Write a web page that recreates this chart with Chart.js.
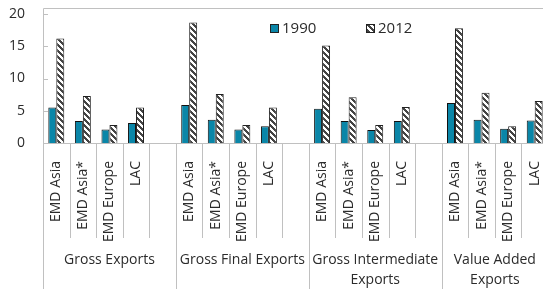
<!DOCTYPE html>
<html lang="en">
<head>
  <meta charset="UTF-8">
  <title>Exports 1990 vs 2012</title>
  <script src="https://cdn.jsdelivr.net/npm/chart.js"></script>
  <style>
    html, body { margin: 0; padding: 0; background: #fff; overflow: hidden; }
  </style>
</head>
<body>
  <canvas id="chart" width="548" height="289"></canvas>

  <script>
    // data
    const regions = ['EMD Asia', 'EMD Asia*', 'EMD Europe', 'LAC'];
    const groups = [['Gross Exports'], ['Gross Final Exports'], ['Gross Intermediate', 'Exports'], ['Value Added', 'Exports']];
    const yTicks = [0, 5, 10, 15, 20];
    const seriesNames = ['1990', '2012'];
    const values1990 = [5.5, 3.4, 2.1, 3.1,  5.9, 3.6, 2.1, 2.6,  5.3, 3.4, 2.0, 3.4,  6.2, 3.6, 2.2, 3.5];
    const values2012 = [16.2, 7.3, 2.8, 5.5,  18.7, 7.6, 2.8, 5.5,  15.1, 7.1, 2.8, 5.6,  17.8, 7.8, 2.6, 6.5];

    const FONT = '"Open Sans", "Noto Sans", sans-serif';
    const TEXT = '#2b2b2b';
    const LINE = '#c0c0c0';
    const TEAL = '#0a86a8';

    // one empty slot after every group except the last
    const labels = [], d1990 = [], d2012 = [], groupStart = [];
    groups.forEach((g, gi) => {
      groupStart.push(labels.length);
      regions.forEach((r, ri) => {
        labels.push(r);
        d1990.push(values1990[gi * regions.length + ri]);
        d2012.push(values2012[gi * regions.length + ri]);
      });
      if (gi < groups.length - 1) {
        labels.push('');
        d1990.push(null);
        d2012.push(null);
      }
    });

    function hatch() {
      const n = 6;
      const c = document.createElement('canvas');
      c.width = n; c.height = n;
      const g = c.getContext('2d');
      g.fillStyle = '#fff';
      g.fillRect(0, 0, n, n);
      g.fillStyle = '#444';
      for (let y = 0; y < n; y++)
        for (let x = 0; x < n; x++)
          if (((x - y) % n + n) % n < 3) g.fillRect(x, y, 1, 1);
      return g.createPattern(c, 'repeat');
    }
    const hatchFill = hatch();

    // axes frame, category separators, group labels and legend
    const decor = {
      id: 'decor',
      afterDraw(chart) {
        const { ctx, chartArea: a, scales: { y } } = chart;
        ctx.save();
        ctx.strokeStyle = LINE;
        ctx.lineWidth = 1;
        const top = a.top - 6;
        ctx.beginPath();
        // y axis + top frame
        ctx.moveTo(a.left + 0.5, a.bottom);
        ctx.lineTo(a.left + 0.5, top + 0.5);
        ctx.lineTo(a.right, top + 0.5);
        // x axis
        ctx.moveTo(a.left, Math.round(a.bottom) + 0.5);
        ctx.lineTo(a.right, Math.round(a.bottom) + 0.5);
        // inward y ticks
        yTicks.forEach(v => {
          const py = Math.round(y.getPixelForValue(v)) + 0.5;
          ctx.moveTo(a.left, py);
          ctx.lineTo(a.left + 5, py);
        });
        // slot separators
        const step = (a.right - a.left) / labels.length;
        for (let i = 0; i <= labels.length; i++) {
          const px = Math.round(a.left + i * step) + 0.5;
          const isGroup = groupStart.includes(i) || i === labels.length;
          ctx.moveTo(px, a.bottom);
          ctx.lineTo(px, isGroup ? chart.height : a.bottom + 95);
        }
        ctx.stroke();

        // group labels
        ctx.fillStyle = TEXT;
        ctx.font = '14px ' + FONT;
        ctx.textAlign = 'center';
        ctx.textBaseline = 'middle';
        groups.forEach((g, gi) => {
          const s = groupStart[gi];
          const e = gi < groups.length - 1 ? groupStart[gi + 1] : labels.length;
          const cx = a.left + (s + e) / 2 * step;
          g.forEach((line, li) => ctx.fillText(line, cx, a.bottom + 117 + li * 20));
        });

        // legend
        const fills = [TEAL, hatchFill];
        const lx = [270, 366];
        ctx.textAlign = 'left';
        seriesNames.forEach((n, i) => {
          ctx.fillStyle = fills[i];
          ctx.fillRect(lx[i], 24, 9, 9);
          ctx.strokeStyle = '#222';
          ctx.strokeRect(lx[i] + 0.5, 24.5, 8, 8);
          ctx.fillStyle = TEXT;
          ctx.font = '15px ' + FONT;
          ctx.fillText(n, lx[i] + 12, 29);
        });
        ctx.restore();
      }
    };

    new Chart(document.getElementById('chart'), {
      type: 'bar',
      data: {
        labels: labels,
        datasets: [
          { label: seriesNames[0], data: d1990, backgroundColor: TEAL, borderColor: '#111', borderWidth: 1 },
          { label: seriesNames[1], data: d2012, backgroundColor: hatchFill, borderColor: '#222', borderWidth: 1 }
        ]
      },
      options: {
        responsive: false,
        animation: false,
        categoryPercentage: 0.6,
        barPercentage: 1,
        layout: { padding: { top: 14, left: 0, right: 0, bottom: 0 } },
        plugins: { legend: { display: false }, tooltip: { enabled: false } },
        scales: {
          x: {
            grid: { display: false },
            border: { display: false },
            ticks: {
              autoSkip: false, minRotation: 90, maxRotation: 90, padding: 10,
              color: TEXT, font: { family: FONT, size: 14 }
            },
            afterFit(s) { s.height = 146; s.paddingLeft = 0; s.paddingRight = 0; }
          },
          y: {
            min: 0, max: 20,
            grid: { display: false, drawTicks: false },
            border: { display: false },
            ticks: { stepSize: 5, padding: 18, color: TEXT, font: { family: FONT, size: 14 } },
            afterFit(s) { s.width = 43; s.paddingTop = 0; s.paddingBottom = 0; }
          }
        }
      },
      plugins: [decor]
    });
  </script>
</body>
</html>
